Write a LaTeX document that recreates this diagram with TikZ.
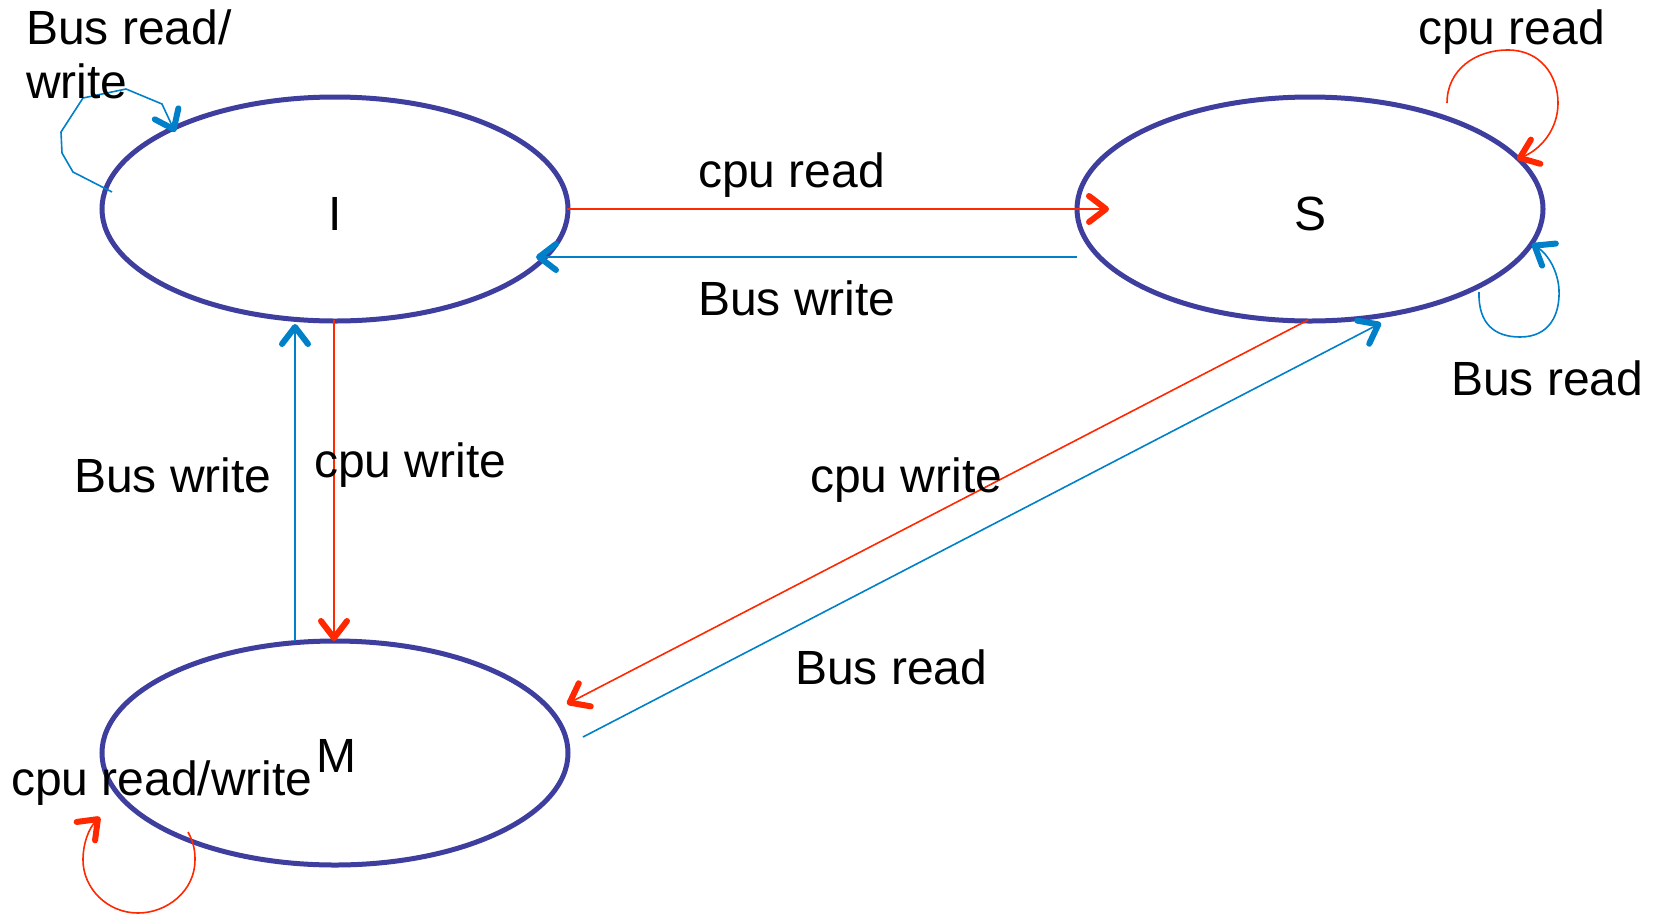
\documentclass[tikz,border=0pt]{standalone}
\usepackage{fontspec}
\setmainfont{Liberation Sans}
\usetikzlibrary{arrows.meta,shapes.geometric}
\definecolor{ellblue}{RGB}{62,62,158}
\definecolor{cred}{RGB}{255,40,0}
\definecolor{cblue}{RGB}{0,128,200}
\begin{document}
\begin{tikzpicture}[x=1pt,y=-1pt,
  state/.style={draw=ellblue,line width=5pt,ellipse,minimum width=466pt,minimum height=224pt,inner sep=0pt},
  lbl/.style={inner sep=0pt,anchor=base west,font=\fontsize{48}{57}\selectfont},
  tip/.style={-{Straight Barb[length=17pt,width=26pt,line width=6pt 0,round]}},
  redline/.style={cred,line width=1.6pt,tip},
  blueline/.style={cblue,line width=1.6pt,tip}]
\useasboundingbox (0,0) rectangle (1653,916);
% states
\node[state] (I) at (335,209) {};
\node[state] (S) at (1310,209) {};
\node[state] (M) at (335,753) {};
\node[lbl,anchor=base] (lI) at (335,230) {I};
\node[lbl,anchor=base] (lS) at (1310,230) {S};
\node[lbl] (lM) at (316,772) {M};
% straight transitions
\draw[redline] ([shift={(232,0)}]I.center) -- ([shift={(-201,0)}]S.center);
\draw[blueline] ([shift={(-233,48)}]S.center) -- ([shift={(201,48)}]I.center);
\draw[redline] ([shift={(-1,111)}]I.center) -- ([shift={(-1,-112)}]M.center);
\draw[blueline] ([shift={(-40,-112)}]M.center) -- ([shift={(-40,115)}]I.center);
\draw[redline] ([shift={(-2,111)}]S.center) -- ([shift={(232,-49)}]M.center);
\draw[blueline] ([shift={(248,-16)}]M.center) -- ([shift={(71,114)}]S.center);
% loops
\begin{scope}[shift={(I.center)}]
\draw[blueline,line join=round] (-223,-17) -- (-262,-37) -- (-273,-56) -- (-274,-77) -- (-252,-111) -- (-209,-120) -- (-173,-105) -- (-160,-77);
\end{scope}
\begin{scope}[shift={(S.center)}]
\draw[redline] (137,-106) .. controls (137,-139) and (165,-159) .. (198,-159)
  .. controls (230,-159) and (248,-134) .. (248,-106)
  .. controls (248,-79) and (230,-59) .. (207,-50);
\draw[blueline] (169,83) .. controls (168,115) and (185,128) .. (210,128)
  .. controls (240,128) and (250,105) .. (249,81)
  .. controls (248,62) and (238,45) .. (222,35);
\end{scope}
\begin{scope}[shift={(M.center)}]
\draw[redline] (-147,79) .. controls (-141,90) and (-140,98) .. (-140,107)
  .. controls (-140,138) and (-168,160) .. (-197,160)
  .. controls (-228,160) and (-252,135) .. (-252,107)
  .. controls (-252,90) and (-246,75) .. (-235,64);
\end{scope}
% labels
\node[lbl] (t1) at (26,44) {Bus read/};
\node[lbl] (t2) at (26,98) {write};
\node[lbl] (t3) at (1418,44) {cpu read};
\node[lbl] (t4) at (698,187) {cpu read};
\node[lbl] (t5) at (698,315) {Bus write};
\node[lbl] (t6) at (1451,395) {Bus read};
\node[lbl] (t7) at (74,492) {Bus write};
\node[lbl] (t8) at (314,477) {cpu write};
\node[lbl] (t9) at (810,492) {cpu write};
\node[lbl] (t10) at (795,684) {Bus read};
\node[lbl] (t11) at (11,795) {cpu read/write};
\end{tikzpicture}
\end{document}
